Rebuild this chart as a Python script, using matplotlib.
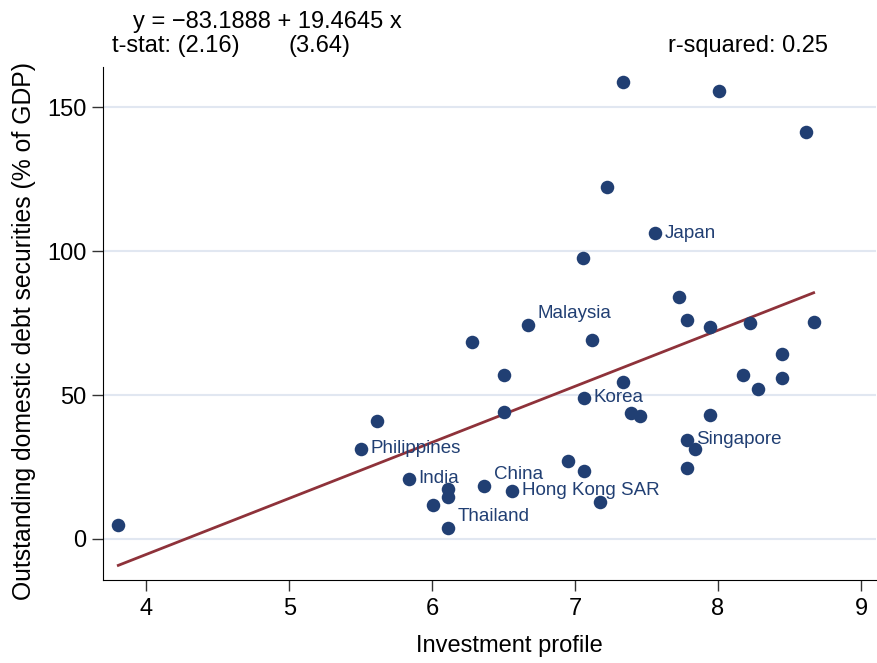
import numpy as np
import matplotlib.pyplot as plt

plt.rcParams['font.family'] = ['Liberation Sans', 'DejaVu Sans']

# Investment profile (x) vs outstanding domestic debt securities, % of GDP (y)
invest = [7.335, 8.004, 8.613, 7.222, 7.558, 7.057, 7.726, 6.670, 7.780, 7.946,
          8.225, 8.669, 7.115, 8.449, 6.280, 6.502, 8.172, 8.447, 8.281, 7.332,
          7.059, 6.500, 7.390, 7.451, 7.946, 7.780, 7.838, 7.780, 6.947, 7.059,
          6.558, 7.171, 6.362, 3.803, 5.615, 5.503, 5.837, 6.112, 6.112, 6.003,
          6.112]
debt = [158.7, 155.5, 141.4, 122.2, 106.2, 97.5, 84.0, 74.5, 76.2, 73.6,
        74.9, 75.3, 69.0, 64.3, 68.6, 57.1, 56.9, 56.1, 52.2, 54.4,
        49.0, 44.2, 43.8, 42.9, 43.2, 34.5, 31.2, 24.6, 27.2, 23.7,
        16.7, 13.0, 18.4, 4.75, 41.0, 31.4, 21.0, 17.4, 14.6, 11.8,
        3.9]
names = ['', '', '', '', 'Japan', '', '', 'Malaysia', '', '',
         '', '', '', '', '', '', '', '', '', '',
         'Korea', '', '', '', '', 'Singapore', '', '', '', '',
         'Hong Kong SAR', '', 'China', '', '', 'Philippines', 'India', '', '', '',
         'Thailand']
# labels sitting up and to the right of their marker instead of straight right
upper = ['Malaysia', 'China', 'Thailand']

# regression results shown on the chart
intercept = -83.1888
slope = 19.4645

navy = '#213f73'
maroon = '#8e323a'

fig = plt.figure(figsize=(8.77, 6.63), dpi=100)
ax = fig.add_axes([0.1178, 0.1252, 0.881, 0.7738])

ax.scatter(invest, debt, s=95, color=navy, zorder=3, linewidths=0)

xfit = np.array([min(invest), max(invest)])
ax.plot(xfit, intercept + slope * xfit, color=maroon, lw=2, zorder=2)

for x, y, n in zip(invest, debt, names):
    if n:
        dy = 8 if n in upper else 0
        ax.annotate(n, (x, y), xytext=(7, dy), textcoords='offset points',
                    va='center', ha='left', color=navy, fontsize=13.5)

ax.set_xlim(3.698, 9.105)
ax.set_ylim(-14.25, 164)
ax.set_xticks([4, 5, 6, 7, 8, 9])
ax.set_yticks([0, 50, 100, 150])
ax.yaxis.grid(True, color='#e1e7f1', lw=1.5)
ax.set_axisbelow(True)
ax.tick_params(labelsize=17, length=8, width=1, color='#333333')
ax.tick_params(axis='x', pad=5)
ax.tick_params(axis='y', pad=4)

ax.spines['right'].set_visible(False)
ax.spines['top'].set_visible(False)

ax.set_xlabel('Investment profile', fontsize=17, labelpad=15)
ax.set_ylabel('Outstanding domestic debt securities (% of GDP)', fontsize=17.8, labelpad=8)
ax.xaxis.set_label_coords(0.526, -0.108)
ax.yaxis.label.set_y(0.485)

fig.text(133 / 877, 1 - 22 / 663, 'y = \u221283.1888 + 19.4645 x', fontsize=17, va='center')
fig.text(112 / 877, 1 - 46 / 663, 't-stat: (2.16)', fontsize=17, va='center')
fig.text(288 / 877, 1 - 46 / 663, '(3.64)', fontsize=17, va='center')
fig.text(668 / 877, 1 - 46 / 663, 'r-squared: 0.25', fontsize=17, va='center')

fig.savefig('out.png', dpi=100)
